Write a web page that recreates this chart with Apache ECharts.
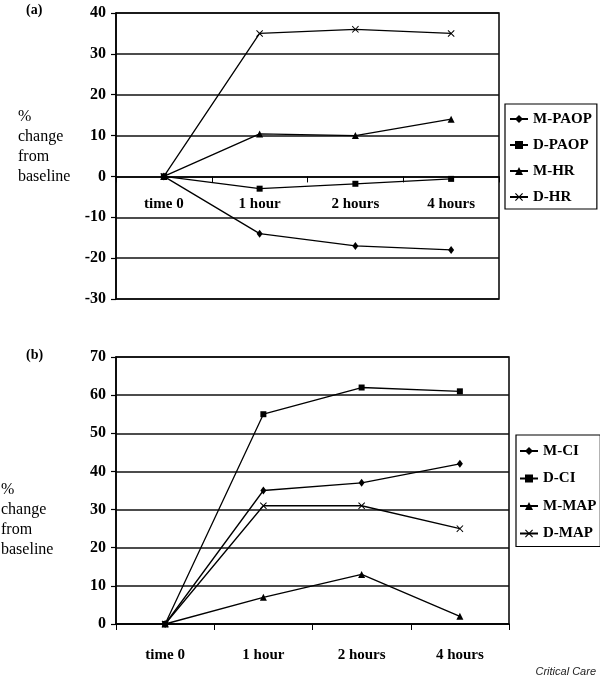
<!DOCTYPE html>
<html>
<head>
<meta charset="utf-8">
<script src="https://cdn.jsdelivr.net/npm/echarts@6/dist/echarts.min.js"></script>
<style>
html,body{margin:0;padding:0;background:#fff;}
#c{width:600px;height:677px;}
</style>
</head>
<body>
<div id="c"></div>
<script>
// ---- data ----
var categories = ['time 0', '1 hour', '2 hours', '4 hours'];

// panel (a)
var aNames = ['M-PAOP', 'D-PAOP', 'M-HR', 'D-HR'];
var mPAOP = [0, -14, -17, -18];
var dPAOP = [0, -3, -1.8, -0.6];
var mHR = [0, 10.4, 10, 14];
var dHR = [0, 35, 36, 35];
var aTicks = { min: -30, max: 40, interval: 10 };

// panel (b)
var bNames = ['M-CI', 'D-CI', 'M-MAP', 'D-MAP'];
var mCI = [0, 35, 37, 42];
var dCI = [0, 55, 62, 61];
var mMAP = [0, 7, 13, 2];
var dMAP = [0, 31, 31, 25];
var bTicks = { min: 0, max: 70, interval: 10 };

// ---- styling ----
var SERIF = '"Liberation Serif", "Times New Roman", serif';
var X_PATH = 'path://M0,1 L1,0 L5,4 L9,0 L10,1 L6,5 L10,9 L9,10 L5,6 L1,10 L0,9 L4,5 Z';
var symbols = [
  { symbol: 'diamond', size: [6, 8] },
  { symbol: 'rect', size: 6 },
  { symbol: 'triangle', size: 7 },
  { symbol: X_PATH, size: 7 }
];

var gridA = { left: 116, top: 13, width: 383, height: 286 };
var gridB = { left: 116, top: 357, width: 393, height: 267 };
// distance of the zero line above the bottom of grid (a), derived from the axis range
var aZeroOffset = -gridA.height * (0 - aTicks.min) / (aTicks.max - aTicks.min);

function mkSeries(name, data, idx, k) {
  return {
    type: 'line',
    name: name,
    data: data,
    xAxisIndex: idx,
    yAxisIndex: idx,
    symbol: symbols[k].symbol,
    symbolSize: symbols[k].size,
    showSymbol: true,
    animation: false,
    color: '#000',
    itemStyle: { color: '#000' },
    lineStyle: { color: '#000', width: 1.3 },
    emphasis: { disabled: true }
  };
}

function mkX(idx, margin, offset) {
  return {
    type: 'category',
    gridIndex: idx,
    data: categories,
    boundaryGap: true,
    offset: offset,
    axisLine: { onZero: false, lineStyle: { color: '#000', width: 1.5 } },
    axisTick: { show: true, interval: 0, length: 6, lineStyle: { color: '#000', width: 1 } },
    axisLabel: { color: '#000', fontFamily: SERIF, fontWeight: 'bold', fontSize: 15, margin: margin, interval: 0 },
    splitLine: { show: false }
  };
}

function mkY(idx, t) {
  return {
    type: 'value',
    gridIndex: idx,
    min: t.min,
    max: t.max,
    interval: t.interval,
    axisLine: { show: true, lineStyle: { color: '#000', width: 1.5 } },
    axisTick: { show: true, length: 5, lineStyle: { color: '#000', width: 1.2 } },
    axisLabel: { color: '#000', fontFamily: SERIF, fontWeight: 'bold', fontSize: 16, margin: 10 },
    splitLine: { show: true, lineStyle: { color: '#111', width: 1.5 } }
  };
}

function mkLegend(names, left, top, gap, pad) {
  return {
    data: names,
    orient: 'vertical',
    left: left,
    top: top,
    itemWidth: 18,
    itemHeight: 10,
    itemGap: gap,
    padding: pad,
    borderColor: '#000',
    borderWidth: 1.2,
    backgroundColor: '#fff',
    selectedMode: false,
    textStyle: { color: '#000', fontFamily: SERIF, fontWeight: 'bold', fontSize: 15, lineHeight: 16 }
  };
}

var option = {
  backgroundColor: '#fff',
  animation: false,
  grid: [
    { left: gridA.left, top: gridA.top, width: gridA.width, height: gridA.height, show: true, borderColor: '#000', borderWidth: 1.5, containLabel: false },
    { left: gridB.left, top: gridB.top, width: gridB.width, height: gridB.height, show: true, borderColor: '#000', borderWidth: 1.5, containLabel: false }
  ],
  xAxis: [mkX(0, 20, aZeroOffset), mkX(1, 24, 0)],
  yAxis: [mkY(0, aTicks), mkY(1, bTicks)],
  legend: [
    mkLegend(aNames, 505, 104, 10, [7, 5, 4, 4]),
    mkLegend(bNames, 516, 435, 11.5, [8, 4, 5, 3])
  ],
  series: [
    mkSeries('M-PAOP', mPAOP, 0, 0),
    mkSeries('D-PAOP', dPAOP, 0, 1),
    mkSeries('M-HR', mHR, 0, 2),
    mkSeries('D-HR', dHR, 0, 3),
    mkSeries('M-CI', mCI, 1, 0),
    mkSeries('D-CI', dCI, 1, 1),
    mkSeries('M-MAP', mMAP, 1, 2),
    mkSeries('D-MAP', dMAP, 1, 3)
  ],
  graphic: [
    { type: 'text', left: 26, top: 3, style: { text: '(a)', fontFamily: SERIF, fontWeight: 'bold', fontSize: 14, fill: '#000' } },
    { type: 'text', left: 26, top: 348, style: { text: '(b)', fontFamily: SERIF, fontWeight: 'bold', fontSize: 14, fill: '#000' } },
    { type: 'text', left: 18, top: 107, style: { text: '%\nchange\nfrom\nbaseline', fontFamily: SERIF, fontSize: 16, lineHeight: 20, fill: '#000' } },
    { type: 'text', left: 1, top: 480, style: { text: '%\nchange\nfrom\nbaseline', fontFamily: SERIF, fontSize: 16, lineHeight: 20, fill: '#000' } },
    { type: 'text', right: 4, top: 666, style: { text: 'Critical Care', fontFamily: '"Liberation Sans", Arial, sans-serif', fontStyle: 'italic', fontSize: 11, fill: '#222' } }
  ]
};

var chart = echarts.init(document.getElementById('c'), null, { renderer: 'canvas' });
chart.setOption(option);
</script>
</body>
</html>
